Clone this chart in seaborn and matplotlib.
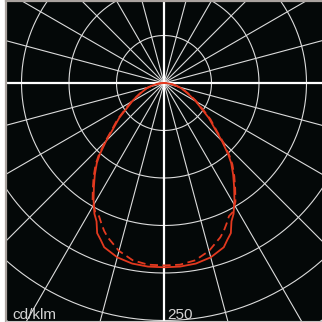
import numpy as np
import pandas as pd
import matplotlib
matplotlib.use('Agg')
import matplotlib.pyplot as plt
import seaborn as sns

# luminous intensity, cd/klm, by gamma angle (deg from nadir), mirrored to both sides
gamma_deg = [0, 5, 10, 15, 20, 22, 24, 26, 28, 31, 34, 37, 40, 42, 45, 48, 52, 56, 61, 67, 73, 78, 82, 86, 90]
solid_cd = [194, 194, 193, 190, 184, 178, 173, 162, 156, 144, 132, 121, 110, 101, 86, 72, 60, 47, 37, 26, 19, 12.6, 7.8, 3.7, 0]
dashed_cd = [192, 192, 189.5, 183, 173, 168, 162, 156, 154, 146, 134, 123, 112, 103, 88, 74, 62, 49, 38, 27, 19.5, 13, 8, 3.8, 0]

ring_values = [50, 100, 150, 200, 250, 300]
spoke_angles = list(range(0, 360, 15))
unit_label = 'cd/klm'
scale_label = '250'

RED = '#e3391f'
GRID = '#dcdcdc'


def curve_frame(gammas, values):
    g = np.array(gammas, dtype=float)
    v = np.array(values, dtype=float)
    full_g = np.concatenate([-g[::-1], g[1:]])
    full_v = np.concatenate([v[::-1], v[1:]])
    rad = np.radians(full_g)
    return pd.DataFrame({'x': full_v * np.sin(rad), 'y': -full_v * np.cos(rad)})


def main():
    sns.set_theme(style='white')
    plt.rcParams['font.family'] = ['Liberation Sans', 'DejaVu Sans']

    fig = plt.figure(figsize=(3.22, 3.22), dpi=100)
    ax = fig.add_axes([6 / 322, 1 / 322, 316 / 322, 320 / 322])
    ax.set_facecolor('#040808')

    # polar grid: rings and spokes
    t = np.linspace(0, 2 * np.pi, 721)
    for r in ring_values:
        ax.plot(r * np.cos(t), r * np.sin(t), color=GRID, lw=0.8, zorder=1)
    reach = 400
    for a in spoke_angles:
        rad = np.radians(a)
        if a % 90 == 0:
            ax.plot([0, reach * np.cos(rad)], [0, reach * np.sin(rad)], color='white', lw=1.6, zorder=2)
        else:
            ax.plot([0, reach * np.cos(rad)], [0, reach * np.sin(rad)], color=GRID, lw=0.8, zorder=1)

    # light distribution curves
    solid = curve_frame(gamma_deg, solid_cd)
    dashed = curve_frame(gamma_deg, dashed_cd)
    sns.lineplot(data=solid, x='x', y='y', sort=False, estimator=None, color=RED, lw=1.3, ax=ax, zorder=4)
    sns.lineplot(data=dashed, x='x', y='y', sort=False, estimator=None, color=RED, lw=1.3,
                 dashes=False, ax=ax, zorder=3)
    ax.lines[-1].set_dashes((4.5, 2.5))

    # scale: 0.95 px per cd/klm, centre at (164, 83) px
    s = 0.95
    ax.set_xlim((6 - 164) / s, (322 - 164) / s)
    ax.set_ylim((83 - 321) / s, (83 - 1) / s)
    ax.set_aspect('auto')
    ax.set_xlabel('')
    ax.set_ylabel('')
    ax.set_xticks([])
    ax.set_yticks([])

    ax.text(-160, -248.5, unit_label, color='#d4d4d4', fontsize=11, ha='left', va='baseline', zorder=5)
    ax.text(3.5, -248.5, scale_label, color='#d4d4d4', fontsize=11, ha='left', va='baseline', zorder=5)

    for side in ['top', 'left']:
        ax.spines[side].set_visible(True)
        ax.spines[side].set_color('#aaa39f')
        ax.spines[side].set_linewidth(1.6)
    ax.spines['bottom'].set_color('#c8c4c2')
    ax.spines['bottom'].set_linewidth(0.8)
    ax.spines['right'].set_visible(False)

    fig.savefig('out.png', dpi=100, facecolor='white')
    plt.close(fig)


if __name__ == '__main__':
    main()
